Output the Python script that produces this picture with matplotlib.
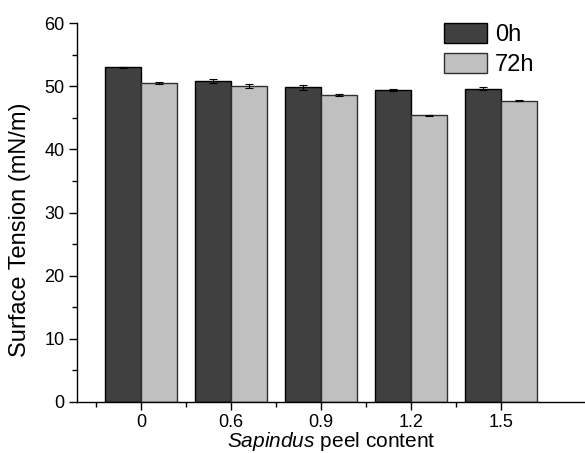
import numpy as np
import matplotlib.pyplot as plt
from matplotlib.ticker import MultipleLocator

plt.rcParams['font.family'] = ['Liberation Sans', 'DejaVu Sans']
plt.rcParams['mathtext.fontset'] = 'custom'
plt.rcParams['mathtext.it'] = 'Liberation Sans:italic'
plt.rcParams['mathtext.rm'] = 'Liberation Sans'

contents = ['0', '0.6', '0.9', '1.2', '1.5']
t0h = [53.0, 50.8, 49.8, 49.4, 49.6]
t0h_err = [0.1, 0.35, 0.4, 0.15, 0.2]
t72h = [50.5, 50.05, 48.6, 45.4, 47.7]
t72h_err = [0.1, 0.3, 0.15, 0.1, 0.1]

x = np.arange(len(contents))
w = 0.4

fig = plt.figure(figsize=(5.85, 4.53), dpi=100)
ax = fig.add_axes([0.1316, 0.1126, 0.8684, 0.8366])

ax.bar(x - w/2, t0h, w, yerr=t0h_err, color='#404040', edgecolor='black',
       linewidth=1, capsize=3, error_kw=dict(elinewidth=0.8, capthick=0.8), label='0h')
ax.bar(x + w/2, t72h, w, yerr=t72h_err, color='#c0c0c0', edgecolor='#303030',
       linewidth=1, capsize=3, error_kw=dict(elinewidth=0.8, capthick=0.8), label='72h')

ax.set_xlim(-0.71, 4.93)
ax.set_ylim(0, 60)
ax.set_xticks(x)
ax.set_xticklabels(contents)
ax.set_xticks(x - 0.5, minor=True)
ax.yaxis.set_major_locator(MultipleLocator(10))
ax.yaxis.set_minor_locator(MultipleLocator(5))
ax.tick_params(which='major', length=6, width=1, labelsize=13, direction='out')
ax.tick_params(axis='x', which='major', pad=2.5)
ax.tick_params(axis='y', which='major', pad=3)
ax.tick_params(which='minor', length=3.5, width=1, direction='out')
ax.spines['top'].set_visible(False)
ax.spines['right'].set_visible(False)
for s in ('left', 'bottom'):
    ax.spines[s].set_linewidth(1)

ax.set_ylabel('Surface Tension (mN/m)', fontsize=17)
ax.yaxis.set_label_coords(-0.09, 0.454)
ax.set_xlabel(r'$\mathit{Sapindus}$ peel content', fontsize=15, labelpad=-0.5)

ax.legend(loc='upper left', bbox_to_anchor=(0.722, 1.0), frameon=False, fontsize=17,
          handlelength=1.82, handleheight=0.9, handletextpad=0.35, labelspacing=0.3,
          borderpad=0, borderaxespad=0)

fig.savefig('out.png', dpi=100)
